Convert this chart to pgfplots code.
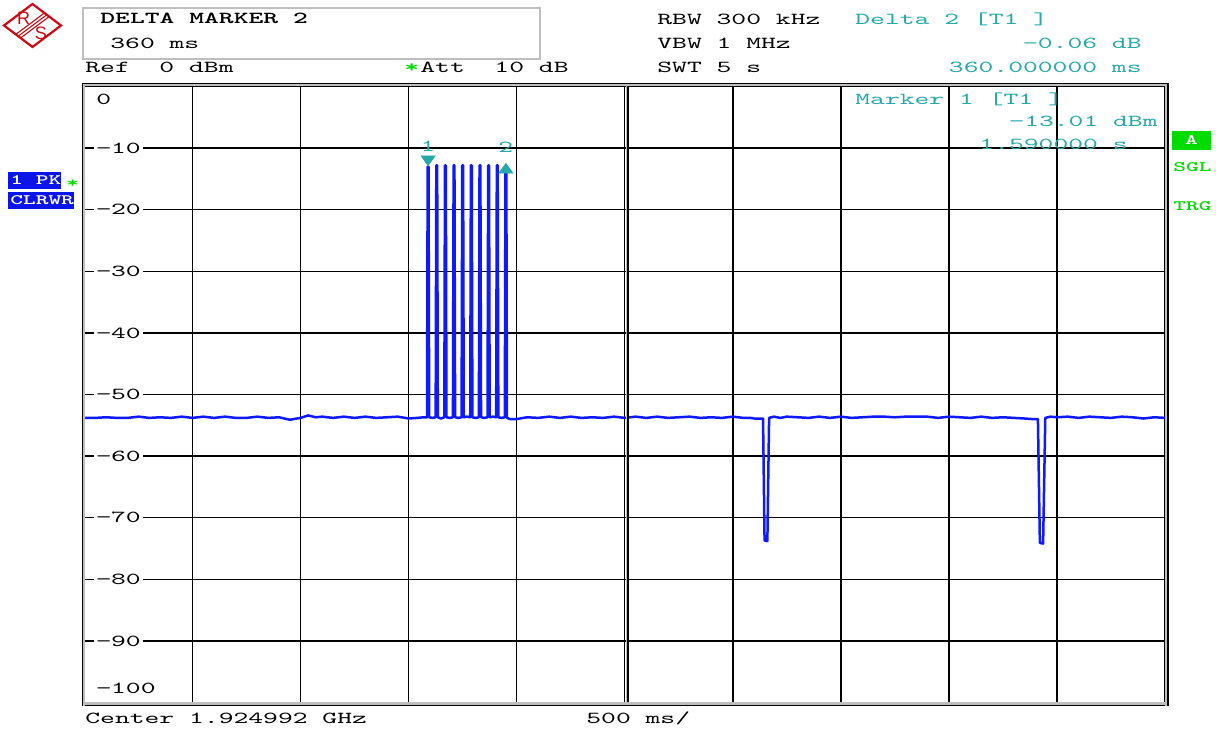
\documentclass[border=0pt]{standalone}
\usepackage{fontspec}
\usepackage{pgfplots}
\pgfplotsset{compat=1.18}
\usetikzlibrary{calc}
\newfontfamily\rsmono[FakeStretch=1.68]{lmmono10-regular.otf}
\newfontfamily\rsmonob[FakeStretch=1.68]{lmmonolt10-bold.otf}
\newfontfamily\logofont{Liberation Sans}
\newcommand\rsf{\rsmono\fontsize{8.4}{10}\selectfont}
\newcommand\rsb{\rsmonob\fontsize{8.4}{10}\selectfont}
\newcommand\rss{\rsmonob\fontsize{7.2}{9}\selectfont}
\definecolor{rsteal}{RGB}{38,168,168}
\definecolor{rsblue}{RGB}{15,25,255}
\definecolor{boxblue}{RGB}{10,20,235}
\definecolor{rsgreen}{RGB}{0,220,0}
\definecolor{rsred}{RGB}{205,10,20}
\definecolor{frame}{RGB}{190,190,190}

\begin{document}
\begin{tikzpicture}
\useasboundingbox (0,0) rectangle (608pt,365.5pt);

% screen pixel (px,py) -> (0.5px pt, 365.5 - 0.5py pt)
\begin{axis}[
    at={(42.25pt,322.25pt)}, anchor=north west,
    scale only axis, width=540.25pt, height=308pt,
    xmin=0, xmax=5, ymin=-100, ymax=0,
    xtick={0,0.5,...,5}, ytick={-100,-90,...,0},
    xticklabels={}, yticklabels={},
    major tick length=0pt,
    grid=major,
    grid style={black, line width=0.7pt},
    axis line style={black, line width=0.8pt},
]
% trace 1, peak detector, 500 ms/div
\addplot[rsblue, line width=1.25pt, line join=round] table {
t y
0.000 -53.8
0.050 -53.8
0.100 -53.7
0.150 -53.8
0.200 -53.8
0.250 -53.6
0.300 -53.8
0.350 -53.7
0.400 -53.8
0.450 -53.6
0.500 -53.8
0.550 -53.6
0.600 -53.8
0.650 -53.6
0.700 -53.8
0.750 -53.8
0.800 -53.6
0.850 -53.8
0.900 -53.7
0.950 -54.1
1.000 -53.8
1.035 -53.4
1.070 -53.7
1.100 -53.6
1.150 -53.8
1.200 -53.6
1.250 -53.8
1.300 -53.6
1.350 -53.8
1.400 -53.7
1.450 -53.6
1.500 -53.9
1.540 -53.8
1.570 -53.7
1.585 -53.7
1.588 -13.01
1.592 -13.01
1.595 -53.7
1.610 -53.8
1.625 -53.7
1.628 -12.8
1.632 -12.8
1.635 -53.7
1.650 -53.9
1.665 -53.7
1.668 -12.8
1.672 -12.8
1.675 -53.7
1.690 -53.8
1.705 -53.7
1.708 -12.8
1.712 -12.8
1.715 -53.7
1.730 -53.8
1.745 -53.7
1.748 -12.8
1.752 -12.8
1.755 -53.7
1.770 -53.6
1.785 -53.7
1.788 -12.8
1.792 -12.8
1.795 -53.7
1.810 -53.8
1.825 -53.7
1.828 -12.8
1.832 -12.8
1.835 -53.7
1.850 -53.8
1.865 -53.7
1.868 -12.8
1.872 -12.8
1.875 -53.7
1.890 -53.6
1.905 -53.7
1.908 -12.8
1.912 -12.8
1.915 -53.7
1.930 -53.8
1.945 -53.7
1.948 -13.07
1.952 -13.07
1.955 -53.8
1.970 -54.0
2.000 -54.0
2.030 -53.8
2.050 -53.7
2.100 -53.8
2.150 -53.6
2.200 -53.8
2.250 -53.6
2.300 -53.8
2.350 -53.7
2.400 -53.8
2.450 -53.6
2.500 -53.8
2.550 -53.6
2.600 -53.8
2.650 -53.6
2.700 -53.8
2.750 -53.7
2.800 -53.6
2.850 -53.8
2.900 -53.7
2.950 -53.8
3.000 -53.6
3.050 -53.8
3.080 -53.8
3.100 -53.9
3.120 -53.9
3.140 -53.9
3.147 -73.7
3.160 -73.8
3.168 -53.8
3.190 -53.6
3.220 -53.8
3.250 -53.6
3.300 -53.7
3.350 -53.8
3.400 -53.6
3.450 -53.8
3.500 -53.6
3.550 -53.8
3.600 -53.7
3.650 -53.6
3.700 -53.6
3.750 -53.7
3.800 -53.6
3.850 -53.6
3.900 -53.6
3.950 -53.8
4.000 -53.6
4.050 -53.7
4.100 -53.8
4.150 -53.6
4.200 -53.8
4.250 -53.7
4.300 -53.8
4.350 -53.9
4.390 -54.0
4.412 -54.0
4.421 -74.1
4.436 -74.2
4.446 -53.8
4.470 -53.6
4.500 -53.7
4.550 -53.6
4.600 -53.8
4.650 -53.6
4.700 -53.7
4.750 -53.8
4.800 -53.6
4.850 -53.7
4.900 -53.9
4.950 -53.7
5.000 -53.8
};
% markers
\addplot[only marks, mark=triangle*, color=rsteal, mark size=4pt,
    mark options={yshift=3.75pt, rotate=180, yscale=0.8}] coordinates {(1.59,-13.01)};
\addplot[only marks, mark=triangle*, color=rsteal, mark size=4pt,
    mark options={yshift=-1.45pt, yscale=0.8}] coordinates {(1.95,-13.07)};
\node[rsteal, inner sep=0, yshift=10pt] at (axis cs:1.59,-13.01) {\rsf 1};
\node[rsteal, inner sep=0, yshift=10pt] at (axis cs:1.95,-13.07) {\rsf 2};

% level labels
\node[anchor=north west, fill=white, inner sep=1.2pt, xshift=4.5pt, yshift=-2.5pt] at (axis cs:0,0) {\rsf 0};
\pgfplotsinvokeforeach{10,20,...,90}{
  \node[anchor=west, fill=white, inner sep=1.2pt, xshift=4.5pt] at (axis cs:0,-#1) {\rsf −#1};
}
\node[anchor=south west, fill=white, inner sep=1.2pt, xshift=4.5pt, yshift=3pt] at (axis cs:0,-100) {\rsf −100};
\end{axis}

\begin{scope}[x=0.5pt, y=-0.5pt, shift={(0pt,365.5pt)}]
% frame details
\fill[frame] (82,83.5) rectangle (1169,86.5);
\draw[black, line width=0.4pt] (82,83.5) -- (1169,83.5);
\fill[frame] (82,702.5) rectangle (1169,706);
\draw[black, line width=0.5pt] (82,706) -- (1169,706);
\fill[frame] (82.5,84) rectangle (84.5,706);
\draw[black, line width=0.7pt] (82.5,84) -- (82.5,706);
\fill[frame] (1165,84) rectangle (1168,706);
\draw[black, line width=0.7pt] (1168,84) -- (1168,706);
\fill[frame] (625.5,86.5) rectangle (628,702.5);
\draw[black, line width=0.7pt] (628,86.5) -- (628,702.5);

% logo
\draw[rsred, line width=1.1pt, line join=miter] (4,25.5) -- (32.5,4) -- (61,25.5) -- (32.5,47) -- cycle;
\foreach \o in {-3,0,3}{
  \draw[rsred, line width=0.55pt] ($(18.2,36.2)+(0.797*\o,0.604*\o)$) -- ($(46.8,14.8)+(0.797*\o,0.604*\o)$);
}
\node[rsred, inner sep=0] at (23.5,18) {\logofont\fontsize{9}{9}\selectfont R};
\node[rsred, inner sep=0] at (41,33.5) {\logofont\fontsize{9}{9}\selectfont S};

% header
\draw[frame, line width=1pt] (83,8.5) rectangle (540,59.5);
\node[anchor=base west, inner sep=0] at (100,24) {\rsb DELTA~MARKER~2};
\node[anchor=base west, inner sep=0] at (110,49) {\rsf 360~ms};
\node[anchor=base west, inner sep=0] at (85,73) {\rsf Ref~~0~dBm};
\node[anchor=base west, inner sep=0, rsgreen] at (404,73) {\rsb *};
\node[anchor=base west, inner sep=0] at (420,73) {\rsf Att~~10~dB};
\node[anchor=base west, inner sep=0] at (657,25) {\rsf RBW~300~kHz};
\node[anchor=base west, inner sep=0] at (657,49) {\rsf VBW~1~MHz};
\node[anchor=base west, inner sep=0] at (657,73) {\rsf SWT~5~s};
\node[anchor=base west, inner sep=0, rsteal] at (855,25) {\rsf Delta~2~[T1~]};
\node[anchor=base east, inner sep=0, rsteal] at (1142,49) {\rsf −0.06~dB};
\node[anchor=base east, inner sep=0, rsteal] at (1142,73) {\rsf 360.000000~ms};
\node[anchor=base west, inner sep=0, rsteal] at (855,105) {\rsf Marker~1~[T1~]};
\node[anchor=base east, inner sep=0, rsteal] at (1158,127) {\rsf −13.01~dBm};
\node[anchor=base east, inner sep=0, rsteal] at (1128,150) {\rsf 1.590000~s};

% trace info, left
\fill[boxblue] (8,172) rectangle (61,189);
\node[anchor=base west, inner sep=0, white] at (10,185) {\rss 1~PK};
\node[anchor=base west, inner sep=0, rsgreen] at (66,188) {\rss *};
\fill[boxblue] (8,192) rectangle (74,209);
\node[anchor=base west, inner sep=0, white] at (10,205) {\rss CLRWR};

% status, right
\fill[rsgreen] (1172,131) rectangle (1211,150);
\node[anchor=base, inner sep=0, white] at (1191.5,145) {\rss A};
\node[anchor=base west, inner sep=0, rsgreen] at (1173,172) {\rss SGL};
\node[anchor=base west, inner sep=0, rsgreen] at (1173,211) {\rss TRG};

% footer
\node[anchor=base west, inner sep=0] at (85,724) {\rsf Center~1.924992~GHz};
\node[anchor=base west, inner sep=0] at (586,724) {\rsf 500~ms/};
\end{scope}
\end{tikzpicture}
\end{document}
